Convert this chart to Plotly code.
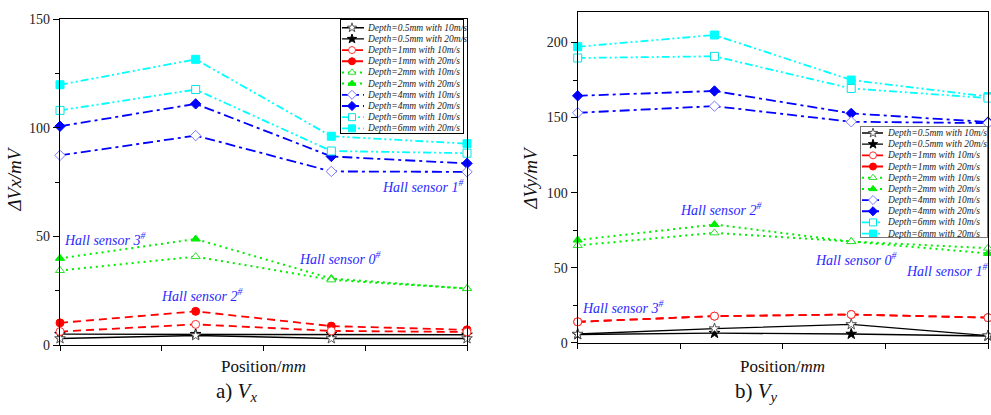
import plotly.graph_objects as go

W, H = 991, 415

# Sensor positions along the track (mm)
positions = [0, 4, 8, 12]

series_labels = [
    "Depth=0.5mm with 10m/s", "Depth=0.5mm with 20m/s",
    "Depth=1mm with 10m/s", "Depth=1mm with 20m/s",
    "Depth=2mm with 10m/s", "Depth=2mm with 20m/s",
    "Depth=4mm with 10m/s", "Depth=4mm with 20m/s",
    "Depth=6mm with 10m/s", "Depth=6mm with 20m/s",
]

# ΔVx (mV)
vx_d05_10 = [3.0, 4.4, 3.0, 3.0]
vx_d05_20 = [5.0, 5.0, 5.0, 4.7]
vx_d1_10 = [6.2, 9.5, 6.5, 6.0]
vx_d1_20 = [10.2, 15.5, 8.7, 7.0]
vx_d2_10 = [34.3, 40.7, 30.0, 26.0]
vx_d2_20 = [39.9, 48.8, 30.6, 26.0]
vx_d4_10 = [87.3, 96.4, 79.9, 79.7]
vx_d4_20 = [100.7, 111.0, 86.8, 83.6]
vx_d6_10 = [108.0, 117.6, 89.3, 88.3]
vx_d6_20 = [119.8, 131.5, 96.1, 92.7]

# ΔVy (mV)
vy_d05_10 = [5.8, 9.4, 12.2, 4.7]
vy_d05_20 = [5.5, 6.4, 5.8, 4.5]
vy_d1_10 = [13.9, 17.7, 18.8, 16.7]
vy_d1_20 = [13.9, 17.7, 18.8, 16.7]
vy_d2_10 = [64.8, 73.2, 67.4, 63.0]
vy_d2_20 = [68.4, 78.7, 67.4, 59.5]
vy_d4_10 = [153.2, 157.6, 147.2, 146.3]
vy_d4_20 = [164.5, 167.7, 152.8, 147.0]
vy_d6_10 = [189.7, 190.8, 169.4, 163.0]
vy_d6_20 = [197.2, 205.0, 175.0, 164.0]

vx_series = [vx_d05_10, vx_d05_20, vx_d1_10, vx_d1_20, vx_d2_10,
             vx_d2_20, vx_d4_10, vx_d4_20, vx_d6_10, vx_d6_20]
vy_series = [vy_d05_10, vy_d05_20, vy_d1_10, vy_d1_20, vy_d2_10,
             vy_d2_20, vy_d4_10, vy_d4_20, vy_d6_10, vy_d6_20]

# Styles per series
colors = ["#000000", "#000000", "#ff0000", "#ff0000", "#00ee00", "#00ee00",
          "#0000ff", "#0000ff", "#00ffff", "#00ffff"]
open_edge = ["#555555", "#000000", "#ff3030", "#ff0000", "#33dd33", "#00ee00",
             "#7a7aff", "#0000ff", "#00e5e5", "#00ffff"]
dashes = ["solid", "solid", "8px,5px", "8px,5px", "2px,4px", "2px,4px",
          "10px,4px,3px,4px", "10px,4px,3px,4px",
          "8px,3px,2px,3px,2px,3px", "8px,3px,2px,3px,2px,3px"]
widths = [1.4, 1.4, 1.8, 1.8, 2.0, 2.0, 1.8, 1.8, 1.8, 1.8]
symbols = ["star", "star", "circle", "circle", "triangle-up", "triangle-up",
           "diamond", "diamond", "square", "square"]
filled = [False, True] * 5
# filled marker of each depth drawn first, hollow one on top
draw_order = [1, 0, 3, 2, 5, 4, 7, 6, 9, 8]

SERIF = "Liberation Serif"
HALL_BLUE = "#2a2aff"


def px_x(px):
    return px / W


def px_y(py):
    return 1 - py / H


def marker_style(i, size=8):
    if filled[i]:
        return dict(symbol=symbols[i], size=size, color=colors[i],
                    line=dict(color=colors[i], width=1))
    return dict(symbol=symbols[i], size=size, color="white",
                line=dict(color=open_edge[i], width=1))


fig = go.Figure()

for series, xa, ya in [(vx_series, "x", "y"), (vy_series, "x2", "y2")]:
    for i in draw_order:
        fig.add_trace(go.Scatter(
            x=positions, y=series[i], mode="lines+markers",
            line=dict(color=colors[i], width=widths[i], dash=dashes[i]),
            marker=marker_style(i), cliponaxis=False, showlegend=False,
            xaxis=xa, yaxis=ya, name=series_labels[i]))

# Legend boxes drawn on their own small axes: box = (x-left, x-right, y-top, y-bottom) in px
legend_boxes = {
    "3": dict(box=(341, 463, 14, 131), row0=21.5, line=(1, 23), mk=11, txt=24,
              frame="#000000", fw=1.2),
    "4": dict(box=(861, 987, 124, 239), row0=130.7, line=(1, 22), mk=12, txt=24,
              frame="#777777", fw=1.0),
}
ROW = 11.6
annotations = []
for k, spec in legend_boxes.items():
    x0, x1, y0, y1 = spec["box"]
    top_pad = (spec["row0"] - y0) / ROW
    bot_pad = (y1 - (spec["row0"] + ROW * 9)) / ROW
    fig.update_layout(**{
        f"xaxis{k}": dict(domain=[px_x(x0), px_x(x1)], range=[0, x1 - x0],
                          anchor=f"y{k}", showgrid=False, zeroline=False,
                          showticklabels=False, ticks="", showline=True,
                          mirror=True, linecolor=spec["frame"],
                          linewidth=spec["fw"], fixedrange=True),
        f"yaxis{k}": dict(domain=[px_y(y1), px_y(y0)],
                          range=[9 + bot_pad, -top_pad],
                          anchor=f"x{k}", showgrid=False, zeroline=False,
                          showticklabels=False, ticks="", showline=True,
                          mirror=True, linecolor=spec["frame"],
                          linewidth=spec["fw"], fixedrange=True),
    })
    for i, label in enumerate(series_labels):
        fig.add_trace(go.Scatter(
            x=list(spec["line"]), y=[i, i], mode="lines",
            line=dict(color=colors[i], width=widths[i], dash=dashes[i]),
            showlegend=False, hoverinfo="skip", xaxis=f"x{k}", yaxis=f"y{k}"))
        fig.add_trace(go.Scatter(
            x=[spec["mk"]], y=[i], mode="markers", marker=marker_style(i, 7),
            showlegend=False, hoverinfo="skip", xaxis=f"x{k}", yaxis=f"y{k}"))
        annotations.append(dict(
            x=spec["txt"], y=i, xref=f"x{k}", yref=f"y{k}",
            text=f"<i>{label}</i>", showarrow=False, xanchor="left",
            yanchor="middle", font=dict(family=SERIF, size=9.5, color="#222222")))

axis_common = dict(showline=True, linecolor="black", linewidth=1.3, mirror=True,
                   showgrid=False, zeroline=False, ticks="outside",
                   tickcolor="black", tickwidth=1,
                   tickfont=dict(family=SERIF, size=14, color="#222222"))

fig.update_layout(
    xaxis=dict(domain=[px_x(60), px_x(467)], range=[0, 12], tick0=0, dtick=3,
               ticklen=5, showticklabels=False, anchor="y", **axis_common),
    yaxis=dict(domain=[px_y(350.7), px_y(12.6)], range=[0, 150], tick0=0,
               dtick=50, ticklen=6, anchor="x",
               minor=dict(ticks="outside", dtick=25, ticklen=4,
                          tickcolor="black", showgrid=False),
               **axis_common),
    xaxis2=dict(domain=[px_x(577.7), px_x(988)], range=[0, 12], tick0=0, dtick=3,
                ticklen=5, showticklabels=False, anchor="y2", **axis_common),
    yaxis2=dict(domain=[px_y(348.3), px_y(5.7)], range=[0, 220], tick0=0,
                dtick=50, ticklen=6, anchor="x2",
                minor=dict(ticks="outside", dtick=25, ticklen=4,
                           tickcolor="black", showgrid=False),
                **axis_common),
)

# Sensor labels: (text, x px, y px, anchor)
hall_labels = [
    ("Hall sensor 3", 62, 240.7, "left"),
    ("Hall sensor 2", 159, 299, "left"),
    ("Hall sensor 0", 296.7, 260.7, "left"),
    ("Hall sensor 1", 466, 186, "right"),
    ("Hall sensor 2", 677.7, 210, "left"),
    ("Hall sensor 3", 580, 311, "left"),
    ("Hall sensor 0", 813, 261.7, "left"),
    ("Hall sensor 1", 904, 273.3, "left"),
]
for text, hx, hy, anc in hall_labels:
    annotations.append(dict(
        x=px_x(hx), y=px_y(hy), xref="paper", yref="paper",
        text=f"<i>{text}<sup>#</sup></i>", showarrow=False, xanchor=anc,
        yanchor="middle", font=dict(family=SERIF, size=14, color=HALL_BLUE)))

# Axis titles and panel captions
titles = [
    ("<i>ΔVx/mV</i>", 15, 179, -90, 19),
    ("<i>ΔVy/mV</i>", 531, 178, -90, 19),
    ("Position/<i>mm</i>", 263.5, 373, 0, 17),
    ("Position/<i>mm</i>", 782, 373, 0, 17),
    ("a) <i>V</i><sub><i>x</i></sub>", 236.5, 399, 0, 21),
    ("b) <i>V</i><sub><i>y</i></sub>", 756, 399, 0, 21),
]
for text, tx, ty, ang, size in titles:
    annotations.append(dict(
        x=px_x(tx), y=px_y(ty), xref="paper", yref="paper", text=text,
        showarrow=False, xanchor="center", yanchor="middle", textangle=ang,
        font=dict(family=SERIF, size=size, color="#111111")))

fig.update_layout(
    width=W, height=H, autosize=False,
    margin=dict(l=0, r=0, t=0, b=0),
    paper_bgcolor="white", plot_bgcolor="white",
    showlegend=False, annotations=annotations,
    font=dict(family=SERIF),
)

fig.write_html("out.html")
